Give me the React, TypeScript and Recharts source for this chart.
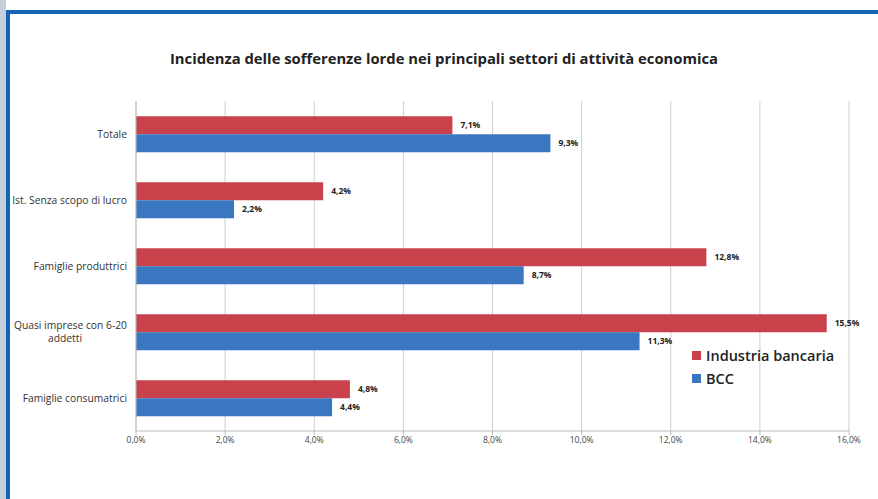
import React from "react";
import { Bar, BarChart, CartesianGrid, LabelList, Text, XAxis, YAxis } from "recharts";

const categories = [
  "Totale",
  "Ist. Senza scopo di lucro",
  "Famiglie produttrici",
  "Quasi imprese con 6-20 addetti",
  "Famiglie consumatrici",
];
const industriaBancaria = [7.1, 4.2, 12.8, 15.5, 4.8];
const bcc = [9.3, 2.2, 8.7, 11.3, 4.4];
const xTicks = [0, 2, 4, 6, 8, 10, 12, 14, 16];

const data = categories.map((name, i) => ({ name, industria: industriaBancaria[i], bcc: bcc[i] }));

const RED = "#c8414b";
const BLUE = "#3a77c0";
const FONT = "'Open Sans', 'DejaVu Sans', sans-serif";

const series = [
  { key: "industria", name: "Industria bancaria", color: RED },
  { key: "bcc", name: "BCC", color: BLUE },
];

const pct = (v: number) => v.toFixed(1).replace(".", ",") + "%";

function wrap(label: string, max = 25) {
  const lines: string[] = [];
  let cur = "";
  for (const w of label.split(" ")) {
    const next = cur ? cur + " " + w : w;
    if (next.length > max && cur) {
      lines.push(cur);
      cur = w;
    } else cur = next;
  }
  if (cur) lines.push(cur);
  return lines;
}

function CategoryTick(props: any) {
  const { x, y, payload } = props;
  const lines = wrap(payload.value);
  const lh = 13;
  const start = y - ((lines.length - 1) * lh) / 2;
  return (
    <g>
      {lines.map((l, i) => (
        <Text key={i} x={x - 1} y={start + i * lh} textAnchor={i > 0 ? "middle" : "end"} dx={i > 0 ? -62 : 0} verticalAnchor="middle" fontSize={10.3} fill="#333" fontFamily={FONT}>
          {l}
        </Text>
      ))}
    </g>
  );
}

export default function App() {
  return (
    <div style={{ position: "absolute", left: 0, top: 0, width: 878, height: 499, background: "#fff", overflow: "hidden" }}>
      <div style={{ position: "absolute", left: 0, top: 0 }}>
        <BarChart width={878} height={499} data={data} layout="vertical" margin={{ top: 101, right: 29, bottom: 38, left: 0 }} barCategoryGap="23%" barGap={0}>
          <CartesianGrid horizontal={false} stroke="#cfcfcf" />
          <XAxis type="number" domain={[0, 16]} ticks={xTicks} tickFormatter={pct} height={30} stroke="#bdbdbd" tickSize={4} tick={{ fontSize: 8.5, fill: "#444", fontFamily: FONT }} interval={0} />
          <YAxis type="category" dataKey="name" width={136} stroke="#bdbdbd" tickLine={false} tick={<CategoryTick />} interval={0} />
          {series.map((s) => (
            <Bar key={s.key} dataKey={s.key} name={s.name} fill={s.color} isAnimationActive={false}>
              <LabelList dataKey={s.key} position="right" offset={8} formatter={(v: any) => pct(v)} style={{ fontSize: 8.5, fontWeight: 700, fill: "#222", fontFamily: FONT }} />
            </Bar>
          ))}
        </BarChart>
      </div>
      <div style={{ position: "absolute", left: 0, top: 0, width: 6, height: 499, background: "#c3d0db" }} />
      <div style={{ position: "absolute", left: 6, top: 10, width: 4, height: 489, background: "#1463b5" }} />
      <div style={{ position: "absolute", left: 6, top: 10, width: 872, height: 4, background: "#1463b5" }} />
      <div style={{ position: "absolute", left: 0, top: 48, width: 888, textAlign: "center", fontFamily: FONT, fontWeight: 700, fontSize: 14.8, color: "#222" }}>
        Incidenza delle sofferenze lorde nei principali settori di attività economica
      </div>
      <div style={{ position: "absolute", left: 692, top: 344, fontFamily: FONT, fontSize: 14.5, fontWeight: 600, color: "#222", lineHeight: "23px" }}>
        {series.map((s) => (
          <div key={s.key} style={{ display: "flex", alignItems: "center" }}>
            <span style={{ display: "inline-block", width: 9, height: 9, background: s.color, marginRight: 5 }} />
            {s.name}
          </div>
        ))}
      </div>
    </div>
  );
}
